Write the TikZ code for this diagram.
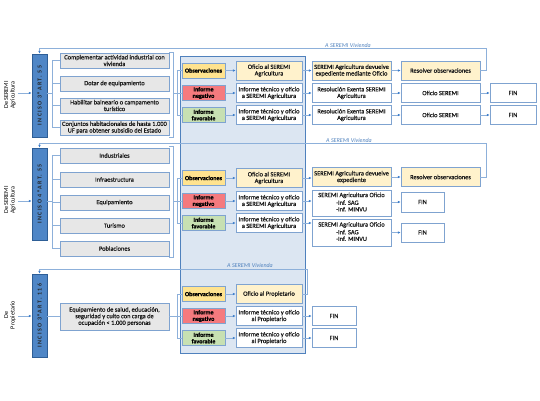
\documentclass[tikz,border=0pt]{standalone}
\usepackage{fontspec}
\setmainfont{Carlito}
\usetikzlibrary{arrows.meta}
\definecolor{panelf}{HTML}{DCE6F2}
\definecolor{panelb}{HTML}{4F81BD}
\definecolor{incf}{HTML}{4F86C6}
\definecolor{incb}{HTML}{2E5E96}
\definecolor{optf}{HTML}{E7E7E7}
\definecolor{boxb}{HTML}{7FA3D0}
\definecolor{yel}{HTML}{FFE38F}
\definecolor{lyel}{HTML}{FFF2CC}
\definecolor{negf}{HTML}{F57A7E}
\definecolor{grn}{HTML}{C7E0B2}
\definecolor{lnc}{HTML}{8DB0DA}
\definecolor{arrc}{HTML}{3F7FCB}
\definecolor{viv}{HTML}{4F81BD}
\begin{document}
\begin{tikzpicture}[x=1pt,y=-1pt,
  bx/.style={draw=boxb, line width=0.75pt, inner sep=0.3pt, align=center,
    font=\fontsize{6.4}{6.6}\selectfont\addfontfeature{FakeBold=0.6}, text=black!90, fill=white},
  wh/.style 2 args={minimum width=#1pt, minimum height=#2pt},
  opt/.style={bx, fill=optf},
  cb/.style={bx, font=\bfseries\fontsize{6.1}{6.5}\selectfont\addfontfeature{FakeBold=0.8}, text=black},
  obs/.style={cb, fill=yel},
  neg/.style={cb, fill=negf},
  fav/.style={cb, fill=grn},
  ly/.style={bx, fill=lyel},
  inc/.style={draw=incb, fill=incf, line width=0.75pt, inner sep=0pt,
    font=\bfseries\fontsize{6}{7}\selectfont\addfontfeature{LetterSpace=22}, text=black!85},
  lbl/.style={font=\fontsize{6.2}{6.6}\selectfont, align=center, inner sep=0pt},
  viv/.style={font=\itshape\fontsize{6}{6.5}\selectfont, text=viv, inner sep=0pt},
  ln/.style={draw=lnc, line width=0.6pt},
  arr/.style={draw=lnc, line width=0.6pt, -{Latex[length=2.8pt,width=2.6pt,color=arrc]}}
]
\useasboundingbox (0,0) rectangle (540,400);
% panel
\node[draw=panelb, fill=panelf, line width=0.9pt, wh={125}{297}, inner sep=0pt] (panel) at (242.5,204.5) {};

%%%%%%%%%%%%%%%% GROUP 1
\node[inc, wh={15}{83}] (i1) at (39.5,95.5) {\rotatebox{90}{INCISO 3°ART. 55}};
\node[lbl] (l1) at (10,95) {\rotatebox{90}{\begin{tabular}{@{}c@{}}De SEREMI\\Agricultura\end{tabular}}};
\coordinate (e1) at (18,93);
\draw[arr] (e1) -- (e1 -| i1.west);
\node[opt, wh={109}{15}] (o11) at (114.5,60.5) {Complementar actividad industrial con\\vivienda};
\node[opt, wh={109}{15}] (o12) at (114.5,83.5) {Dotar de equipamiento};
\node[opt, wh={109}{15}] (o13) at (114.5,105.5) {Habilitar balneario o campamento\\turístico};
\node[opt, wh={109}{15}] (o14) at (114.5,127.5) {Conjuntos habitacionales de hasta 1.000\\UF para obtener subsidio del Estado};
\coordinate (b1) at (52,93);
\draw[ln] (i1.east |- b1) -- (b1);
\foreach \n in {o11,o12,o13,o14} \draw[ln] (b1) |- (\n.west);
\coordinate (r1t) at (173,52);
\coordinate (r1b) at (173,137);
\coordinate (r1m) at (173,93);
\coordinate (p1) at (177,93);
\draw[ln] (r1t -| o11.east) -- (r1t) -- (r1b) -- (r1b -| o14.east);
\draw[ln] (r1m) -- (p1);

\node[obs, wh={43}{15}] (c11) at (203.5,70.5) {Observaciones};
\node[neg, wh={43}{15}] (c12) at (203.5,93) {Informe\\negativo};
\node[fav, wh={43}{15}] (c13) at (203.5,115) {Informe\\favorable};
\foreach \n in {c11,c12,c13} \draw[ln] (p1) |- (\n.west);
\node[ly, wh={66}{19}] (m11) at (269,70.5) {Oficio al SEREMI\\Agricultura};
\node[bx, wh={66}{19}] (m12) at (269,93) {Informe técnico y oficio\\a SEREMI Agricultura};
\node[bx, wh={66}{19}] (m13) at (269,115) {Informe técnico y oficio\\a SEREMI Agricultura};
\node[ly, wh={79}{19}] (t11) at (351.5,70.5) {SEREMI Agricultura devuelve\\expediente mediante Oficio};
\node[bx, wh={79}{19}] (t12) at (351.5,93) {Resolución Exenta SEREMI\\Agricultura};
\node[bx, wh={79}{19}] (t13) at (351.5,115) {Resolución Exenta SEREMI\\Agricultura};
\node[ly, wh={79}{19}] (q11) at (440.5,70.5) {Resolver observaciones};
\node[bx, wh={79}{19}] (q12) at (440.5,93) {Oficio SEREMI};
\node[bx, wh={79}{19}] (q13) at (440.5,115) {Oficio SEREMI};
\node[bx, wh={46}{19}] (f12) at (513,93) {FIN};
\node[bx, wh={46}{19}] (f13) at (513,115) {FIN};
\foreach \a/\b in {c11/m11,c12/m12,c13/m13,m11/t11,m12/t12,m13/t13,t11/q11,t12/q12,t13/q13,q12/f12,q13/f13}
  \draw[arr] (\a.east) -- (\b.west);
\coordinate (v1) at (486,48);
\draw[arr] (q11.east) -| (v1) -| (i1.north);
\node[viv] (vl1) at (348,45) {A SEREMI Vivienda};

%%%%%%%%%%%%%%%% GROUP 2
\node[inc, wh={15}{92}] (i2) at (39.5,194) {\rotatebox{90}{INCISO 4°ART. 55}};
\node[lbl] (l2) at (10,200) {\rotatebox{90}{\begin{tabular}{@{}c@{}}De SEREMI\\Agricultura\end{tabular}}};
\coordinate (e2) at (18,201);
\draw[arr] (e2) -- (e2 -| i2.west);
\node[opt, wh={109}{15}] (o21) at (114.5,155.5) {Industriales};
\node[opt, wh={109}{15}] (o22) at (114.5,179.5) {Infraestructura};
\node[opt, wh={109}{15}] (o23) at (114.5,202.5) {Equipamiento};
\node[opt, wh={109}{15}] (o24) at (114.5,225.5) {Turismo};
\node[opt, wh={109}{15}] (o25) at (114.5,248.5) {Poblaciones};
\coordinate (b2) at (52,201);
\draw[ln] (i2.east |- b2) -- (b2);
\foreach \n in {o21,o22,o23,o24,o25} \draw[ln] (b2) |- (\n.west);
\coordinate (r2t) at (173,146);
\coordinate (r2b) at (173,257);
\coordinate (r2m) at (173,201);
\coordinate (p2) at (177,201);
\draw[ln] (r2t -| o21.east) -- (r2t) -- (r2b) -- (r2b -| o25.east);
\draw[ln] (r2m) -- (p2);

\node[obs, wh={43}{15}] (c21) at (203.5,178) {Observaciones};
\node[neg, wh={43}{15}] (c22) at (203.5,201) {Informe\\negativo};
\node[fav, wh={43}{15}] (c23) at (203.5,223) {Informe\\favorable};
\foreach \n in {c21,c22,c23} \draw[ln] (p2) |- (\n.west);
\node[ly, wh={66}{19}] (m21) at (269,178) {Oficio al SEREMI\\Agricultura};
\node[bx, wh={66}{19}] (m22) at (269,201) {Informe técnico y oficio\\a SEREMI Agricultura};
\node[bx, wh={66}{19}] (m23) at (269,223) {Informe técnico y oficio\\a SEREMI Agricultura};
\node[ly, wh={79}{19}] (t21) at (351.5,177) {SEREMI Agricultura devuelve\\expediente};
\node[bx, wh={79}{26}] (t22) at (351.5,203) {SEREMI Agricultura Oficio\\[1pt]\begin{tabular}{@{}l@{}}-Inf. SAG\\-Inf. MINVU\end{tabular}};
\node[bx, wh={79}{27}] (t23) at (351.5,232.5) {SEREMI Agricultura Oficio\\[1pt]\begin{tabular}{@{}l@{}}-Inf. SAG\\-Inf. MINVU\end{tabular}};
\node[ly, wh={79}{19}] (q21) at (440.5,177) {Resolver observaciones};
\node[bx, wh={43}{20}] (f22) at (422.5,202) {FIN};
\node[bx, wh={43}{19}] (f23) at (422.5,232.5) {FIN};
\foreach \a/\b in {c21/m21,c22/m22,c23/m23}
  \draw[arr] (\a.east) -- (\b.west);
\foreach \a/\b in {m21/t21,m22/t22,m23/t23}
  \draw[arr] (\a.east) -- (\a.east -| \b.west);
\draw[arr] (t21.east) -- (q21.west);
\draw[arr] (t22.east |- f22) -- (f22.west);
\draw[arr] (t23.east |- f23) -- (f23.west);
\coordinate (v2) at (486,143);
\draw[arr] (q21.east) -| (v2) -| (i2.north);
\node[viv] (vl2) at (349,140) {A SEREMI Vivienda};

%%%%%%%%%%%%%%%% GROUP 3
\node[inc, wh={15}{83}] (i3) at (39.5,315.5) {\rotatebox{90}{INCISO 3°ART. 116}};
\node[lbl] (l3) at (10,315) {\rotatebox{90}{\begin{tabular}{@{}c@{}}De\\Propietario\end{tabular}}};
\coordinate (e3) at (18,316);
\draw[arr] (e3) -- (e3 -| i3.west);
\node[opt, wh={109}{27}] (o31) at (114.5,316.5) {Equipamiento de salud, educación,\\seguridad y culto con carga de\\ocupación < 1.000 personas};
\coordinate (p3) at (177,316);
\draw[ln] (i3.east |- o31.west) -- (o31.west);
\draw[ln] (o31.east) -- (o31.east -| p3);
\node[obs, wh={43}{15}] (c31) at (203.5,294) {Observaciones};
\node[neg, wh={43}{15}] (c32) at (203.5,316) {Informe\\negativo};
\node[fav, wh={43}{15}] (c33) at (203.5,338) {Informe\\favorable};
\foreach \n in {c31,c32,c33} \draw[ln] (p3) |- (\n.west);
\node[ly, wh={66}{19}] (m31) at (269,294) {Oficio al Propietario};
\node[bx, wh={66}{19}] (m32) at (269,316) {Informe técnico y oficio\\al Propietario};
\node[bx, wh={66}{19}] (m33) at (269,338) {Informe técnico y oficio\\al Propietario};
\node[bx, wh={44}{19}] (f32) at (334,316) {FIN};
\node[bx, wh={44}{19}] (f33) at (334,338) {FIN};
\foreach \a/\b in {c31/m31,c32/m32,c33/m33,m32/f32,m33/f33}
  \draw[arr] (\a.east) -- (\b.west);
\coordinate (v3) at (307,269);
\draw[arr] (m31.east) -| (v3) -| (i3.north);
\node[viv] (vl3) at (250,265) {A SEREMI Vivienda};
\end{tikzpicture}
\end{document}
